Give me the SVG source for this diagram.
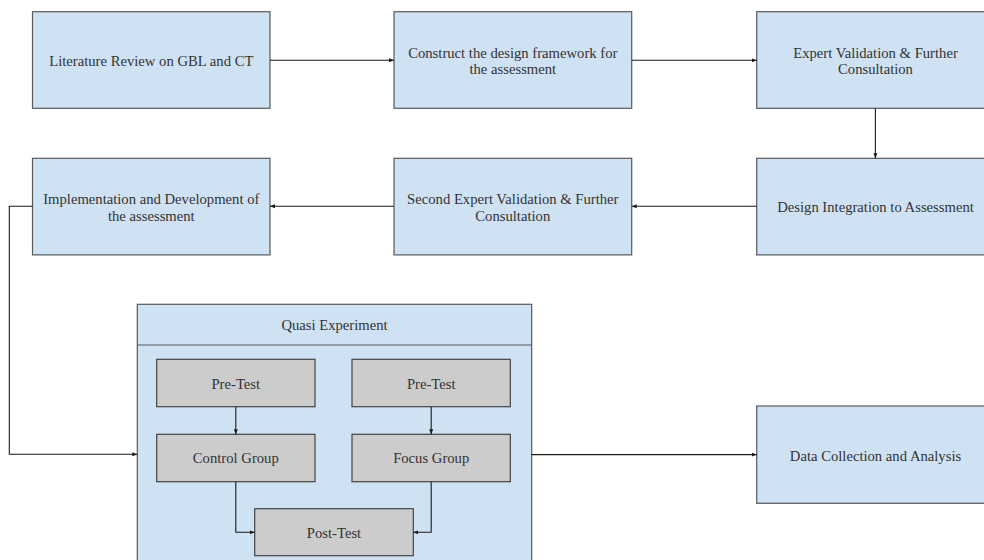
<svg xmlns="http://www.w3.org/2000/svg" width="984" height="560" viewBox="0 0 984 560">
<style>
.box{fill:#cfe2f3;stroke:#595959;stroke-width:1.2}
.gbox{fill:#cccccc;stroke:#434343;stroke-width:1.2}
.t{font-family:"Liberation Serif","Times New Roman",serif;font-size:14.67px;fill:#333333;text-anchor:middle}
.c{fill:none;stroke:#1a1a1a;stroke-width:1.1}
</style>
<defs>
<marker id="ah" viewBox="0 0 10 10" refX="10" refY="5" markerWidth="5" markerHeight="5" markerUnits="userSpaceOnUse" orient="auto">
<path d="M0,1 L10,5 L0,9 z" fill="#1a1a1a"/>
</marker>
</defs>
<rect width="984" height="560" fill="#ffffff"/>
<g id="n1"><rect class="box" x="32.5" y="11.7" width="237.5" height="96.6"/><text class="t" x="151.3" y="66">Literature Review on GBL and CT</text></g>
<g id="n2"><rect class="box" x="394" y="11.7" width="237.7" height="96.6"/><text class="t" x="512.8" y="57.7">Construct the design framework for</text><text class="t" x="512.8" y="74.3">the assessment</text></g>
<g id="n3"><rect class="box" x="756.7" y="11.7" width="237.5" height="96.6"/><text class="t" x="875.5" y="57.7">Expert Validation &amp; Further</text><text class="t" x="875.5" y="74.3">Consultation</text></g>
<g id="n4"><rect class="box" x="756.7" y="158.3" width="237.5" height="96.6"/><text class="t" x="875.5" y="211.7">Design Integration to Assessment</text></g>
<g id="n5"><rect class="box" x="394" y="158.3" width="237.7" height="96.6"/><text class="t" x="512.8" y="204">Second Expert Validation &amp; Further</text><text class="t" x="512.8" y="220.6">Consultation</text></g>
<g id="n6"><rect class="box" x="32.5" y="158.3" width="237.5" height="96.6"/><text class="t" x="151.3" y="204">Implementation and Development of</text><text class="t" x="151.3" y="220.6">the assessment</text></g>
<g id="quasi"><rect class="box" x="137.3" y="304.3" width="394.4" height="270"/><line x1="137.3" y1="345" x2="531.7" y2="345" stroke="#595959" stroke-width="1.2"/><text class="t" x="334.5" y="330">Quasi Experiment</text></g>
<g id="pre1"><rect class="gbox" x="156.7" y="359.3" width="158.3" height="47.4"/><text class="t" x="235.8" y="388.7">Pre-Test</text></g>
<g id="pre2"><rect class="gbox" x="352" y="359.3" width="158.3" height="47.4"/><text class="t" x="431.2" y="388.7">Pre-Test</text></g>
<g id="control"><rect class="gbox" x="156.7" y="434.3" width="158.3" height="47.4"/><text class="t" x="235.8" y="463.3">Control Group</text></g>
<g id="focus"><rect class="gbox" x="352" y="434.3" width="158.3" height="47.4"/><text class="t" x="431.2" y="463.3">Focus Group</text></g>
<g id="post"><rect class="gbox" x="254.7" y="508.7" width="158.6" height="47"/><text class="t" x="334" y="537.7">Post-Test</text></g>
<g id="n7"><rect class="box" x="756.7" y="406" width="237.5" height="97.3"/><text class="t" x="875.5" y="461">Data Collection and Analysis</text></g>
<g id="connectors">
<path class="c" d="M270,60.3 H394" marker-end="url(#ah)"/>
<path class="c" d="M631.7,60.3 H756.7" marker-end="url(#ah)"/>
<path class="c" d="M875.4,108.3 V158.3" marker-end="url(#ah)"/>
<path class="c" d="M756.7,206.3 H631.7" marker-end="url(#ah)"/>
<path class="c" d="M394,206.3 H270" marker-end="url(#ah)"/>
<path class="c" d="M32.5,206.3 H9.3 V454.3 H137.3" marker-end="url(#ah)"/>
<path class="c" d="M235.8,406.7 V434.3" marker-end="url(#ah)"/>
<path class="c" d="M431.2,406.7 V434.3" marker-end="url(#ah)"/>
<path class="c" d="M235.8,481.7 V532.3 H254.7" marker-end="url(#ah)"/>
<path class="c" d="M431.2,481.7 V532.3 H413.3" marker-end="url(#ah)"/>
<path class="c" d="M531.7,454.6 H756.7" marker-end="url(#ah)"/>
</g>
</svg>
